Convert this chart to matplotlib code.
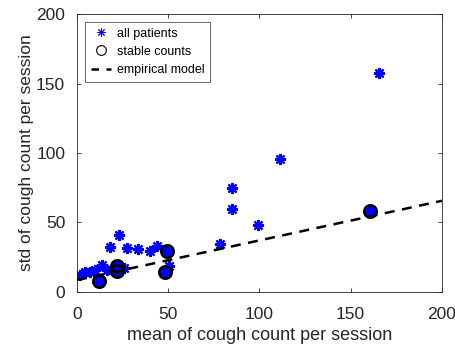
import matplotlib
matplotlib.use("Agg")
import matplotlib.pyplot as plt
from matplotlib.lines import Line2D
import numpy as np

plt.rcParams['font.family'] = ['Liberation Sans', 'DejaVu Sans']

# mean and std of cough counts per session, one entry per patient
mean_all = [1.8, 4.5, 7.3, 10.0, 12.0, 13.7, 16.4, 18.3, 19.2, 22.0, 22.0, 22.8,
            25.6, 27.4, 33.5, 40.0, 44.0, 48.5, 49.5, 50.6, 78.4, 85.0, 85.0,
            99.0, 111.0, 160.5, 165.5]
std_all = [11.9, 14.3, 14.3, 15.5, 7.5, 19.1, 15.5, 32.4, 15.5, 18.5, 15.0, 40.8,
           16.7, 31.6, 31.0, 29.0, 33.0, 14.0, 29.0, 18.4, 34.1, 59.6, 75.0,
           48.0, 96.0, 58.0, 157.5]

# patients whose counts were stable
mean_stable = [12.0, 22.0, 22.0, 48.5, 49.5, 160.5]
std_stable = [7.5, 18.5, 15.0, 14.0, 29.0, 58.0]

# linear empirical model: std = intercept + slope * mean
model_intercept = 8.3
model_slope = 0.286

x_ticks = [0, 50, 100, 150, 200]
y_ticks = [0, 50, 100, 150, 200]

fig = plt.figure(figsize=(4.55, 3.45), dpi=100)
ax = fig.add_axes([0.1692, 0.155, 0.802, 0.803])

star = (8, 2, 0)
ax.plot(mean_all, std_all, linestyle='none', marker=star, markersize=8,
        markeredgewidth=1.6, color='#0000ff', zorder=3)
ax.plot(mean_stable, std_stable, linestyle='none', marker='o', markersize=7,
        markerfacecolor='#0000ff', markeredgecolor='#0000ff', zorder=3.5)
ax.plot(mean_stable, std_stable, linestyle='none', marker='o', markersize=9,
        markerfacecolor='none', markeredgecolor='black', markeredgewidth=1.8,
        zorder=4)

xm = np.array([0, 200])
ax.plot(xm, model_intercept + model_slope * xm, color='black', linestyle=(0, (4, 3)),
        linewidth=1.8, zorder=5)

ax.set_xlim(0, 200)
ax.set_ylim(0, 200)
ax.set_xticks(x_ticks)
ax.set_yticks(y_ticks)
ax.tick_params(direction='in', length=3, width=0.6, colors='#262626',
               labelsize=12.5, top=True, right=True, labelcolor='#262626')
ax.tick_params(axis='x', pad=11)
ax.tick_params(axis='y', pad=8.5)
for s in ax.spines.values():
    s.set_color('#262626')
    s.set_linewidth(0.6)

ax.set_xlabel('mean of cough count per session', fontsize=13, color='#262626',
              labelpad=3.5)
ax.set_ylabel('std of cough count per session', fontsize=12.5, color='#262626',
              labelpad=1.5)

handles = [
    Line2D([], [], linestyle='none', marker=star, markersize=6,
           markeredgewidth=0.7, color='#0000ff'),
    Line2D([], [], linestyle='none', marker='o', markersize=7,
           markerfacecolor='none', markeredgecolor='black', markeredgewidth=0.8),
    Line2D([], [], color='black', linestyle=(0, (3, 3)), linewidth=1.8),
]
leg = ax.legend(handles, ['all patients', 'stable counts', 'empirical model'],
                loc='upper left', bbox_to_anchor=(0.022, 0.973), fontsize=9,
                frameon=True, fancybox=False, edgecolor='#262626',
                handlelength=1.6, handletextpad=0.5, borderpad=0.45,
                labelspacing=0.5, borderaxespad=0)
leg.get_frame().set_linewidth(0.6)

fig.savefig('out.png', dpi=100)
